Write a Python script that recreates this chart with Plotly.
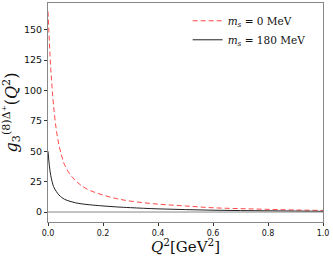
import plotly.graph_objects as go

q2 = [0, 0.005, 0.01, 0.015, 0.02, 0.03, 0.04, 0.05, 0.06, 0.08, 0.1, 0.12, 0.15,
      0.2, 0.25, 0.3, 0.4, 0.5, 0.6, 0.7, 0.8, 0.9, 1.0]
g_ms0 = [165, 140, 118, 102, 88, 68, 55, 46, 39, 31, 26, 22, 18,
         14, 11, 9, 6.5, 5, 3.5, 2.8, 2.2, 1.7, 1.3]
g_ms180 = [50, 38, 30, 25, 21, 17, 14, 12, 10.5, 8.8, 7.6, 6.8, 6,
           5, 4.2, 3.6, 2.6, 2, 1.5, 1.2, 1.0, 0.8, 0.6]

x_ticks = [0, 0.2, 0.4, 0.6, 0.8, 1.0]
x_tick_labels = ["0.0", "0.2", "0.4", "0.6", "0.8", "1.0"]
y_ticks = [0, 25, 50, 75, 100, 125, 150]

fig = go.Figure()
fig.add_trace(go.Scatter(x=q2, y=g_ms0, mode="lines", line_shape="spline",
                         line=dict(color="rgba(255,40,40,0.85)", width=1, dash="5px,3px"),
                         name="<i>m<sub>s</sub></i> = 0 MeV"))
fig.add_trace(go.Scatter(x=q2, y=g_ms180, mode="lines", line_shape="spline",
                         line=dict(color="#222", width=1),
                         name="<i>m<sub>s</sub></i> = 180 MeV"))

fig.add_hline(y=0, line=dict(color="#888", width=1))

axis_common = dict(showline=True, linecolor="#888", linewidth=1, mirror=True,
                   ticks="outside", ticklen=3, tickcolor="#333", showgrid=False,
                   zeroline=False, automargin=False)

fig.update_layout(
    width=333, height=256,
    margin=dict(l=48, r=10, t=3, b=34, autoexpand=False),
    plot_bgcolor="white", paper_bgcolor="white",
    showlegend=True,
    legend=dict(x=0.955, y=0.985, xanchor="right", yanchor="top",
                font=dict(family="DejaVu Serif", size=10.5, color="#111"),
                bgcolor="rgba(255,255,255,0)", borderwidth=0,
                tracegroupgap=0, itemwidth=30),
    xaxis=dict(range=[0, 1], tickvals=x_ticks, ticktext=x_tick_labels,
               tickfont=dict(family="DejaVu Sans", size=8, color="#111"),
               title=dict(text="<i>Q</i><sup>2</sup>[GeV<sup>2</sup>]",
                          font=dict(family="DejaVu Serif", size=15, color="#111"),
                          standoff=4),
               **axis_common),
    yaxis=dict(range=[-8.2, 172], tickvals=y_ticks,
               tickfont=dict(family="DejaVu Sans", size=9.5, color="#111"),
               title=dict(text="<i>g</i><sub>3</sub><sup>(8)Δ⁺</sup>(<i>Q</i><sup>2</sup>)",
                          font=dict(family="DejaVu Serif", size=16, color="#111"),
                          standoff=2),
               **axis_common),
)

fig.write_html("out.html", config={"displayModeBar": False},
               post_script="document.body.style.margin='0';")
